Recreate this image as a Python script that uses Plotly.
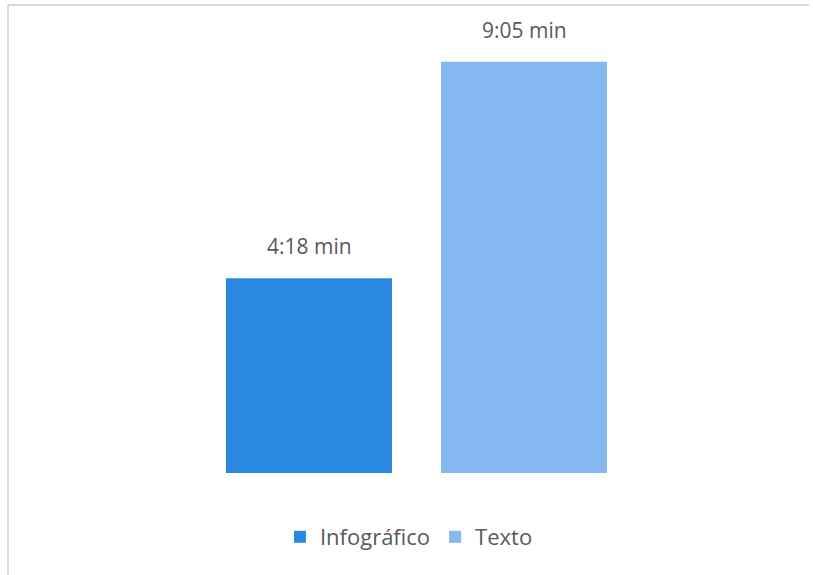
import plotly.graph_objects as go

categories = ["Infográfico", "Texto"]
seconds = [258, 545]
labels = ["4:18 min", "9:05 min"]
colors = ["#2A88E0", "#85B7F0"]

W, H = 813, 575
x_pos = [0, 1]

fig = go.Figure()
for i, name in enumerate(categories):
    fig.add_trace(go.Bar(
        x=[x_pos[i]], y=[seconds[i]], name=name,
        marker=dict(color=colors[i], line=dict(width=0)),
        width=0.772, hoverinfo="skip",
    ))
    fig.add_annotation(
        x=x_pos[i], y=seconds[i], text=labels[i], showarrow=False,
        xref="x", yref="y", yanchor="bottom", yshift=16,
        font=dict(family="Open Sans", size=21, color="#595959"),
    )

# chart border (light gray frame): top and left edges only
fig.add_shape(type="line", xref="paper", yref="paper",
              x0=8 / W, x1=0.995, y0=1 - 6 / H, y1=1 - 6 / H,
              line=dict(color="#D9D9D9", width=2))
fig.add_shape(type="line", xref="paper", yref="paper",
              x0=8 / W, x1=8 / W, y0=1 - 6 / H, y1=-0.25,
              line=dict(color="#D9D9D9", width=2))

px_per_unit = 215.0
left = -309 / px_per_unit
right = left + W / px_per_unit

fig.update_layout(
    width=W, height=H,
    margin=dict(l=0, r=0, t=0, b=102),
    paper_bgcolor="white", plot_bgcolor="white",
    barmode="overlay",
    xaxis=dict(range=[left, right], visible=False, fixedrange=True),
    yaxis=dict(range=[0, 627], visible=False, fixedrange=True),
    showlegend=True,
    legend=dict(orientation="h", x=0.503, xanchor="center", y=-64 / 473, yanchor="middle",
                font=dict(family="Open Sans", size=22, color="#595959"),
                itemwidth=30, traceorder="normal", itemclick=False),
)

fig.write_html("out.html", config={"displayModeBar": False})
